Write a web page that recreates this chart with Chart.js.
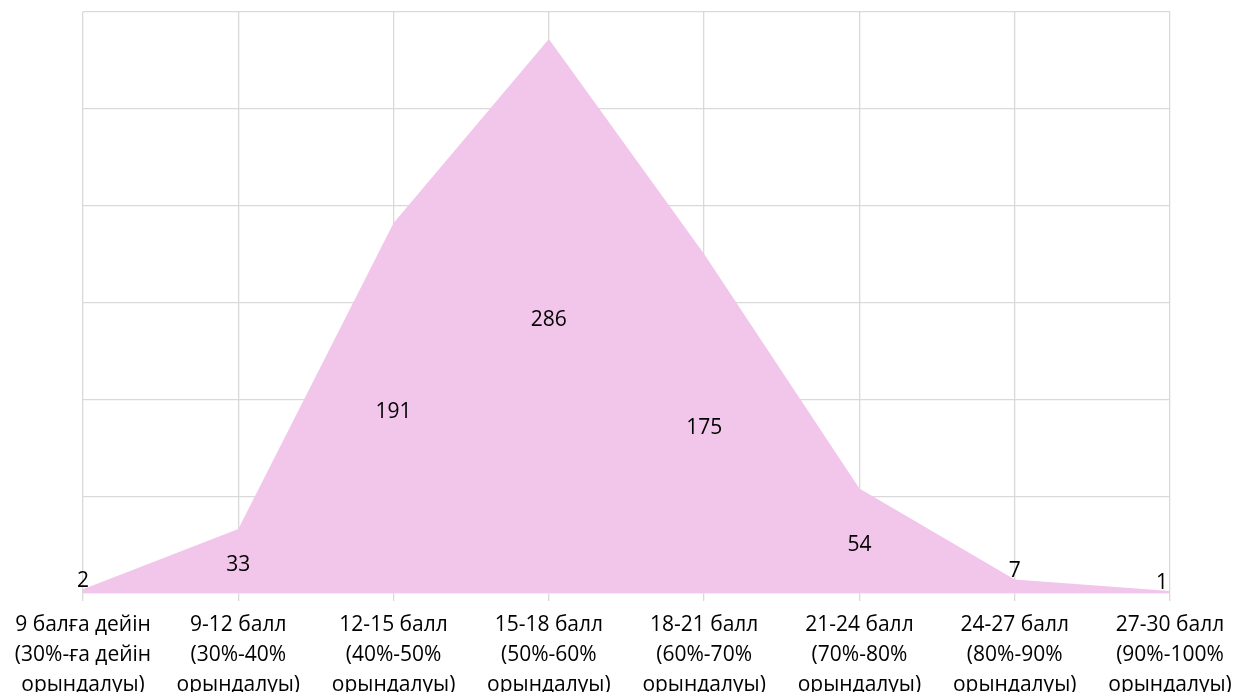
<!DOCTYPE html>
<html>
<head>
<meta charset="utf-8">
<script src="https://cdn.jsdelivr.net/npm/chart.js@4"></script>
<style>
html,body{margin:0;padding:0;background:#fff;}
#wrap{width:1237px;height:692px;position:relative;}
</style>
</head>
<body>
<div id="wrap"><canvas id="c" width="1237" height="692"></canvas></div>
<script>
const categories = [
  ["9 балға дейін", "(30%-ға дейін", "орындалуы)"],
  ["9-12 балл", "(30%-40%", "орындалуы)"],
  ["12-15 балл", "(40%-50%", "орындалуы)"],
  ["15-18 балл", "(50%-60%", "орындалуы)"],
  ["18-21 балл", "(60%-70%", "орындалуы)"],
  ["21-24 балл", "(70%-80%", "орындалуы)"],
  ["24-27 балл", "(80%-90%", "орындалуы)"],
  ["27-30 балл", "(90%-100%", "орындалуы)"]
];
const counts = [2, 33, 191, 286, 175, 54, 7, 1];
const yMax = 300;
const yStep = 50;

const FONT = "'Open Sans', 'Noto Sans', sans-serif";

const labelPlugin = {
  id: 'midLabels',
  afterDatasetsDraw(chart) {
    const ctx = chart.ctx;
    const meta = chart.getDatasetMeta(0);
    const area = chart.chartArea;
    const yScale = chart.scales.y;
    const base = yScale.getPixelForValue(0);
    ctx.save();
    ctx.font = "21px " + FONT;
    ctx.fillStyle = '#000';
    ctx.textAlign = 'center';
    ctx.textBaseline = 'middle';
    meta.data.forEach((pt, i) => {
      const txt = String(counts[i]);
      const w = ctx.measureText(txt).width;
      const h = base - pt.y;
      let x = pt.x, y;
      if (h < 30) {
        y = pt.y - 8.5;
      } else {
        y = (pt.y + base) / 2 + 4;
      }
      if (x + w / 2 > area.right) x = area.right - w / 2 - 2;
      ctx.fillText(txt, x, y);
    });
    ctx.restore();
  }
};

new Chart(document.getElementById('c'), {
  type: 'line',
  data: {
    labels: categories,
    datasets: [{
      data: counts,
      fill: 'origin',
      backgroundColor: '#F2C6EB',
      borderWidth: 0,
      borderColor: 'rgba(0,0,0,0)',
      pointRadius: 0,
      tension: 0
    }]
  },
  options: {
    responsive: false,
    animation: false,
    layout: { padding: { left: 83, right: 67, top: 12, bottom: 0 } },
    plugins: { legend: { display: false }, tooltip: { enabled: false } },
    scales: {
      x: {
        offset: false,
        grid: { color: '#D9D9D9', lineWidth: 1.3, tickLength: 8, drawOnChartArea: true },
        border: { color: '#D9D9D9', width: 1.3 },
        ticks: {
          color: '#000',
          font: { family: FONT, size: 21, lineHeight: 1.43 },
          maxRotation: 0,
          autoSkip: false,
          padding: 9
        },
        afterFit(s) { s.paddingLeft = 0; s.paddingRight = 0; s.height = 99; }
      },
      y: {
        min: 0, max: yMax,
        grid: { color: '#D9D9D9', lineWidth: 1.3, drawTicks: false },
        border: { display: false },
        ticks: { display: false, stepSize: yStep }
      }
    }
  },
  plugins: [labelPlugin]
});
</script>
</body>
</html>
